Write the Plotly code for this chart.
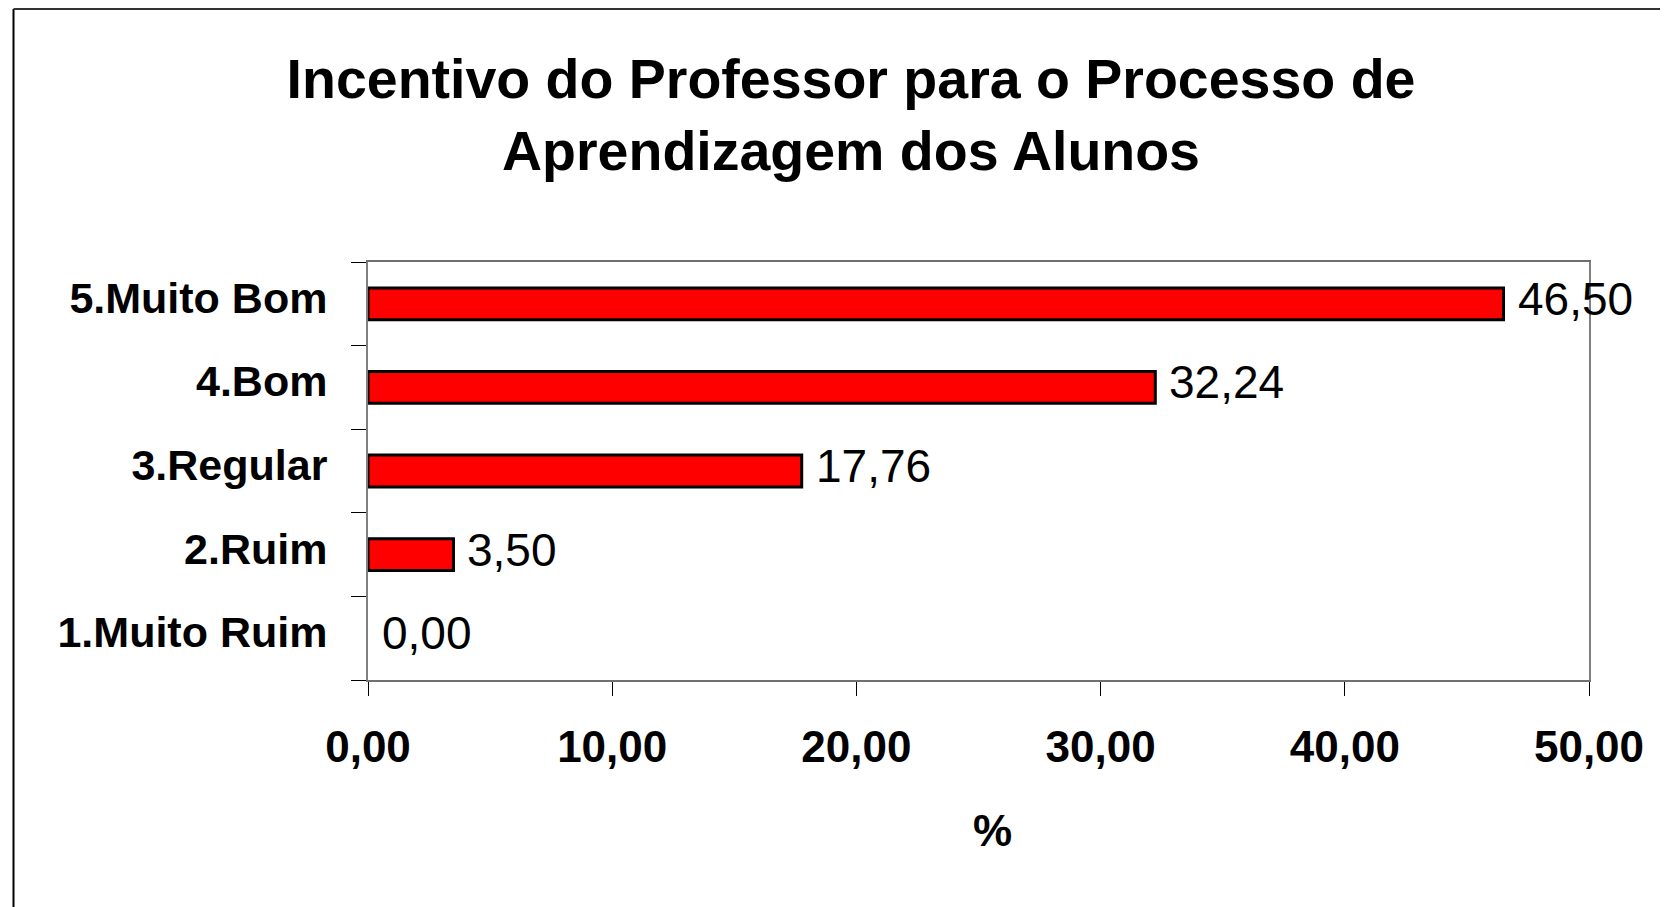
import plotly.graph_objects as go

categories = ["1.Muito Ruim", "2.Ruim", "3.Regular", "4.Bom", "5.Muito Bom"]
values = [0.00, 3.50, 17.76, 32.24, 46.50]
x_ticks = [0, 10, 20, 30, 40, 50]
x_tick_labels = ["0,00", "10,00", "20,00", "30,00", "40,00", "50,00"]
title_text = "Incentivo do Professor para o Processo de<br>Aprendizagem dos Alunos"
x_title = "%"

FONT = "Liberation Sans, Arial, sans-serif"
W, H = 1668, 907
OFF = 8  # page body margin
L, R = 368 - OFF, W - 1589 + OFF
T, B = 262 - OFF, H - 680 + OFF

fig = go.Figure()
fig.add_trace(go.Bar(
    x=values,
    y=categories,
    orientation="h",
    width=0.38,
    marker=dict(color="#FF0000",
                line=dict(color="#000000", width=[3 if v > 0 else 0 for v in values])),
    hoverinfo="x+y",
))

annotations = []
for c, v in zip(categories, values):
    annotations.append(dict(
        x=v, y=c, xref="x", yref="y",
        text=f"{v:.2f}".replace(".", ","),
        showarrow=False, xanchor="left", yanchor="middle",
        xshift=12, yshift=5,
        font=dict(family=FONT, size=46, color="#000000"),
    ))

pw = W - L - R
ph = H - T - B
plot_bottom = H - B

annotations.append(dict(
    x=(992 - OFF - L) / pw, y=(plot_bottom - (830 - OFF)) / ph,
    xref="paper", yref="paper",
    text=x_title, showarrow=False, xanchor="center", yanchor="middle",
    font=dict(family=FONT, size=44, color="#000000", weight="bold"),
))

frame_left = (13.5 - OFF - L) / pw
frame_top = 1 + (T - 1) / ph
frame_bottom = -B / ph - 0.1
frame_right = (W - L) / pw + 0.1

fig.update_layout(
    width=W, height=H,
    margin=dict(l=L, r=R, t=T, b=B, autoexpand=False),
    paper_bgcolor="white",
    plot_bgcolor="white",
    showlegend=False,
    separators=",.",
    title=dict(
        text=title_text,
        x=(851 - OFF) / W, xref="container", xanchor="center",
        y=1 - 90 / H, yref="container", yanchor="middle",
        font=dict(family=FONT, size=55.5, color="#000000", weight="bold"),
    ),
    xaxis=dict(
        range=[0, 50],
        tickvals=x_ticks,
        ticktext=x_tick_labels,
        ticks="outside", ticklen=14, tickcolor="#000000", tickwidth=1,
        showline=True, linecolor="#6f6f6f", linewidth=2, mirror=True,
        showgrid=False, zeroline=False,
        tickfont=dict(family=FONT, size=44, color="#000000", weight="bold"),
        ticklabelstandoff=13,
    ),
    yaxis=dict(
        type="category",
        categoryorder="array", categoryarray=categories,
        range=[-0.5, 4.5],
        tickson="boundaries",
        ticks="outside", ticklen=15, tickcolor="#000000", tickwidth=1,
        showline=True, linecolor="#7f7f7f", linewidth=2, mirror=True,
        showgrid=False, zeroline=False,
        tickfont=dict(family=FONT, size=43, color="#000000", weight="bold"),
        ticklabelstandoff=30,
        ticklabelshift=-6,
    ),
    annotations=annotations,
    shapes=[
        dict(type="line", xref="paper", yref="paper",
             x0=frame_left, x1=frame_left, y0=frame_bottom, y1=frame_top,
             line=dict(color="#000000", width=2)),
        dict(type="line", xref="paper", yref="paper",
             x0=frame_left, x1=frame_right, y0=frame_top, y1=frame_top,
             line=dict(color="#333333", width=2)),
    ],
)

fig.write_html("out.html")
